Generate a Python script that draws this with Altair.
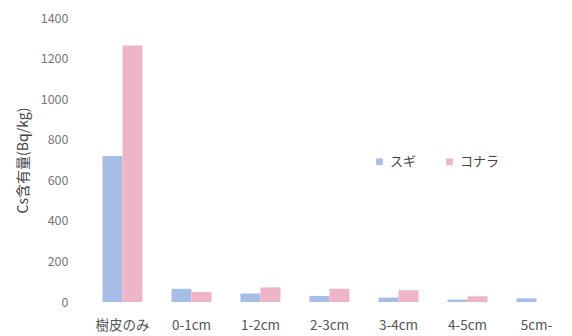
import altair as alt
import pandas as pd

# Cs content by bark / depth layer for two tree species
categories = ["樹皮のみ", "0-1cm", "1-2cm", "2-3cm", "3-4cm", "4-5cm", "5cm-"]
sugi = [720, 65, 42, 30, 22, 12, 18]
konara = [1265, 50, 72, 65, 58, 28, None]
series = ["スギ", "コナラ"]

rows = []
for cat, s, k in zip(categories, sugi, konara):
    rows.append({"layer": cat, "species": series[0], "value": s})
    if k is not None:
        rows.append({"layer": cat, "species": series[1], "value": k})
df = pd.DataFrame(rows)

FONT = "Noto Sans CJK JP"

chart = alt.Chart(df).mark_bar().encode(
    x=alt.X("layer:N", sort=categories, title=None,
            scale=alt.Scale(paddingInner=0.42, paddingOuter=0.21),
            axis=alt.Axis(labelAngle=0, ticks=False, domain=False, labelPadding=16,
                          labelFontSize=13.5, labelColor="#555555", labelFont=FONT)),
    xOffset=alt.XOffset("species:N", sort=series),
    y=alt.Y("value:Q", title="Cs含有量(Bq/kg)",
            scale=alt.Scale(domain=[0, 1400]),
            axis=alt.Axis(values=[0, 200, 400, 600, 800, 1000, 1200, 1400], format="d",
                          ticks=False, domain=False, grid=False, labelPadding=20,
                          labelFontSize=12.5, labelColor="#777777", labelFont=FONT,
                          titleFont=FONT, titleFontSize=14, titleFontWeight="normal",
                          titleColor="#444444", titlePadding=10)),
    color=alt.Color("species:N", sort=series,
                    scale=alt.Scale(domain=series, range=["#a8bde6", "#eeb4c8"]),
                    legend=alt.Legend(title=None, orient="none", legendX=285, legendY=137,
                                      direction="horizontal", symbolType="square",
                                      symbolSize=45, symbolStrokeWidth=0,
                                      labelFont=FONT, labelFontSize=13, labelOffset=4,
                                      labelColor="#444444", columnPadding=26)),
).properties(
    width=483, height=284,
    background="white",
    autosize=alt.AutoSizeParams(type="none"),
    padding={"left": 88, "top": 18, "right": 1, "bottom": 34},
).configure_view(strokeWidth=0, stroke="transparent")

chart.save("out.html", embed_options={"renderer": "svg", "actions": False})
